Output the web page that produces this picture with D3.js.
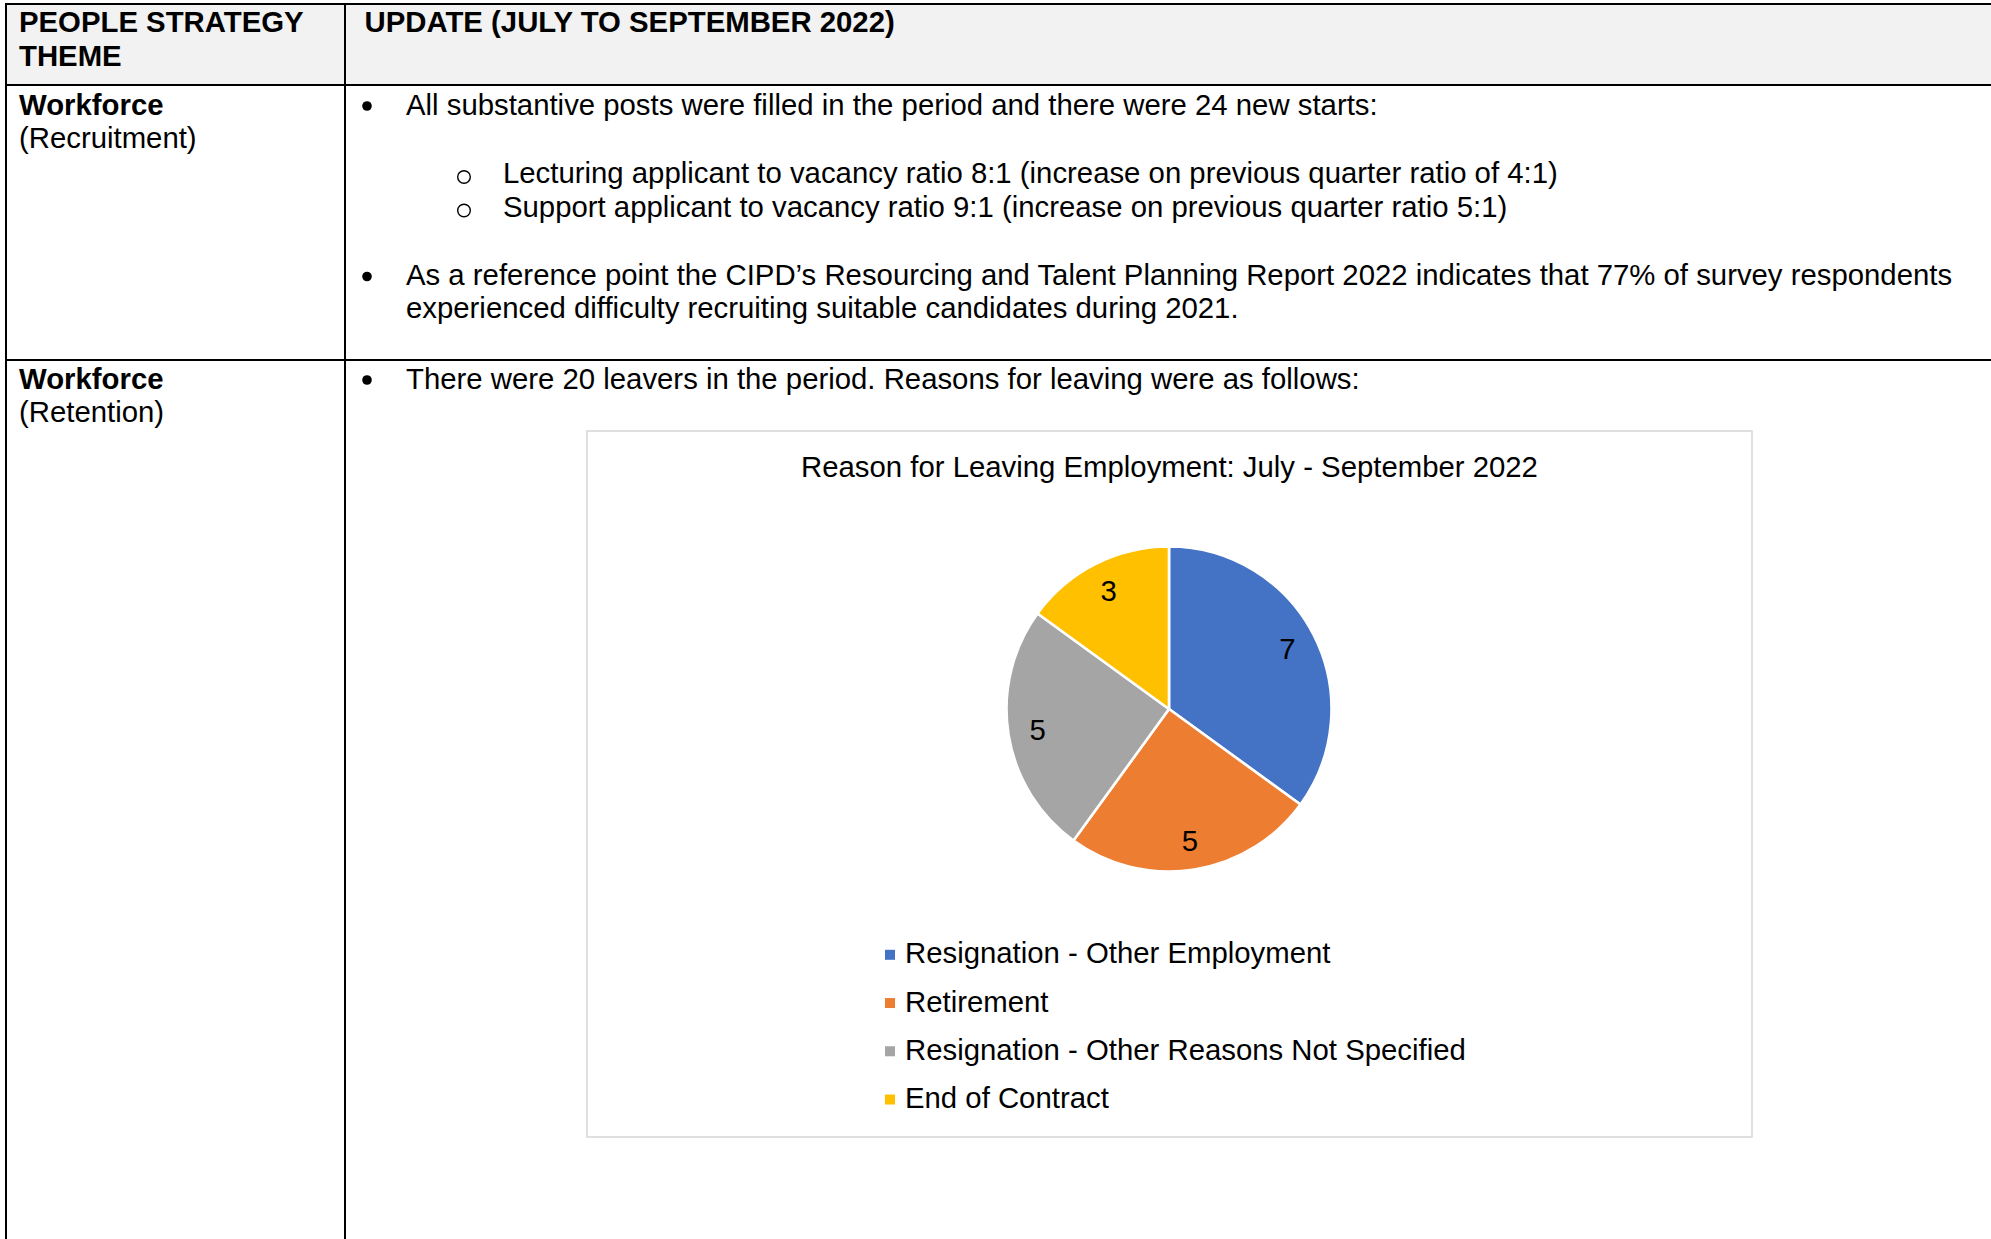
<!DOCTYPE html>
<html>
<head>
<meta charset="utf-8">
<script src="https://cdn.jsdelivr.net/npm/d3@7"></script>
<style>
  body { margin: 0; background: #fff; }
  svg { display: block; font-family: "Liberation Sans", Arial, sans-serif; }
</style>
</head>
<body>
<svg id="svg" width="1991" height="1239"></svg>
<script>
// chart data
var reasons = ["Resignation - Other Employment", "Retirement", "Resignation - Other Reasons Not Specified", "End of Contract"];
var leavers = [7, 5, 5, 3];
var sliceColors = ["#4472C4", "#ED7D31", "#A5A5A5", "#FFC000"];
var chartTitle = "Reason for Leaving Employment: July - September 2022";

// table text
var headCol1 = ["PEOPLE STRATEGY", "THEME"];
var headCol2 = "UPDATE (JULY TO SEPTEMBER 2022)";
var recruitLines = [
	"All substantive posts were filled in the period and there were 24 new starts:",
	"Lecturing applicant to vacancy ratio 8:1 (increase on previous quarter ratio of 4:1)",
	"Support applicant to vacancy ratio 9:1 (increase on previous quarter ratio 5:1)",
	"As a reference point the CIPD\u2019s Resourcing and Talent Planning Report 2022 indicates that 77% of survey respondents",
	"experienced difficulty recruiting suitable candidates during 2021."
];
var retentionLine = "There were 20 leavers in the period. Reasons for leaving were as follows:";

var svg = d3.select("svg"),
	width = +svg.attr("width"),
	height = +svg.attr("height");

var fs = 29.33;

// ---- table grid
var grid = svg.append("g").attr("stroke", "#000").attr("stroke-width", 2);
svg.insert("rect", "g").attr("x", 6).attr("y", 4).attr("width", width - 6).attr("height", 81).attr("fill", "#f2f2f2");
[4, 85, 360].forEach(function (y) {
	grid.append("line").attr("x1", 5).attr("x2", width).attr("y1", y).attr("y2", y);
});
[6, 345].forEach(function (x) {
	grid.append("line").attr("x1", x).attr("x2", x).attr("y1", 3).attr("y2", height);
});

function txt(x, y, s, bold) {
	return svg.append("text").attr("x", x).attr("y", y)
		.style("font-size", fs + "px")
		.style("font-weight", bold ? "bold" : "normal")
		.style("fill", "#000")
		.text(s);
}
function bullet(x, y) {
	svg.append("circle").attr("cx", x).attr("cy", y).attr("r", 4.8).attr("fill", "#000");
}
function ring(x, y) {
	svg.append("circle").attr("cx", x).attr("cy", y).attr("r", 6.3)
		.attr("fill", "none").attr("stroke", "#000").attr("stroke-width", 1.4);
}

// header row
txt(19, 31.7, headCol1[0], true);
txt(19, 65.7, headCol1[1], true);
txt(364.5, 31.7, headCol2, true);

// recruitment row
txt(19, 114.5, "Workforce", true);
txt(19, 147.5, "(Recruitment)");
bullet(367, 106);
txt(406, 114.5, recruitLines[0]);
ring(464, 177);
txt(503, 183, recruitLines[1]);
ring(464, 210.5);
txt(503, 217, recruitLines[2]);
bullet(367, 276.5);
txt(406, 284.5, recruitLines[3]);
txt(406, 318, recruitLines[4]);

// retention row
txt(19, 388.5, "Workforce", true);
txt(19, 421.5, "(Retention)");
bullet(367, 380);
txt(406, 389, retentionLine);

// ---- chart box
var box = { x: 587, y: 431, w: 1165, h: 706 };
svg.append("rect")
	.attr("x", box.x).attr("y", box.y).attr("width", box.w).attr("height", box.h)
	.attr("fill", "#fff").attr("stroke", "#d9d9d9").attr("stroke-width", 1.6);

var cx = box.x + box.w / 2;

svg.append("text")
	.attr("x", cx).attr("y", 476.7)
	.attr("text-anchor", "middle")
	.style("font-size", fs + "px").style("fill", "#000")
	.text(chartTitle);

var color = d3.scaleOrdinal().domain(reasons).range(sliceColors);

var data = reasons.map(function (r, i) { return { reason: r, value: leavers[i] }; });

var pie = d3.pie().sort(null).value(function (d) { return d.value; });
var radius = 162.5;
var arc = d3.arc().innerRadius(0).outerRadius(radius);
var labelArc = d3.arc().innerRadius(133).outerRadius(133);

var pieG = svg.append("g").attr("transform", "translate(" + (cx - 0.5) + ",709)");

pieG.selectAll("path")
	.data(pie(data))
	.enter().append("path")
	.attr("d", arc)
	.attr("fill", function (d) { return color(d.data.reason); })
	.attr("stroke", "#fff")
	.attr("stroke-width", 2.6)
	.attr("stroke-linejoin", "round");

pieG.selectAll("text")
	.data(pie(data))
	.enter().append("text")
	.attr("transform", function (d) { return "translate(" + labelArc.centroid(d) + ")"; })
	.attr("text-anchor", "middle")
	.attr("dy", "0.35em")
	.style("font-size", fs + "px").style("fill", "#000")
	.text(function (d) { return d.data.value; });

// ---- legend
var legendY = d3.scalePoint().domain(reasons).range([963.3, 1108]);

var legend = svg.append("g").selectAll("g")
	.data(reasons)
	.enter().append("g")
	.attr("transform", function (d) { return "translate(885," + legendY(d) + ")"; });

legend.append("rect")
	.attr("x", 0).attr("y", -13.5)
	.attr("width", 10).attr("height", 10)
	.attr("fill", function (d) { return color(d); });

legend.append("text")
	.attr("x", 20).attr("y", 0)
	.style("font-size", fs + "px").style("fill", "#000")
	.text(function (d) { return d; });
</script>
</body>
</html>
